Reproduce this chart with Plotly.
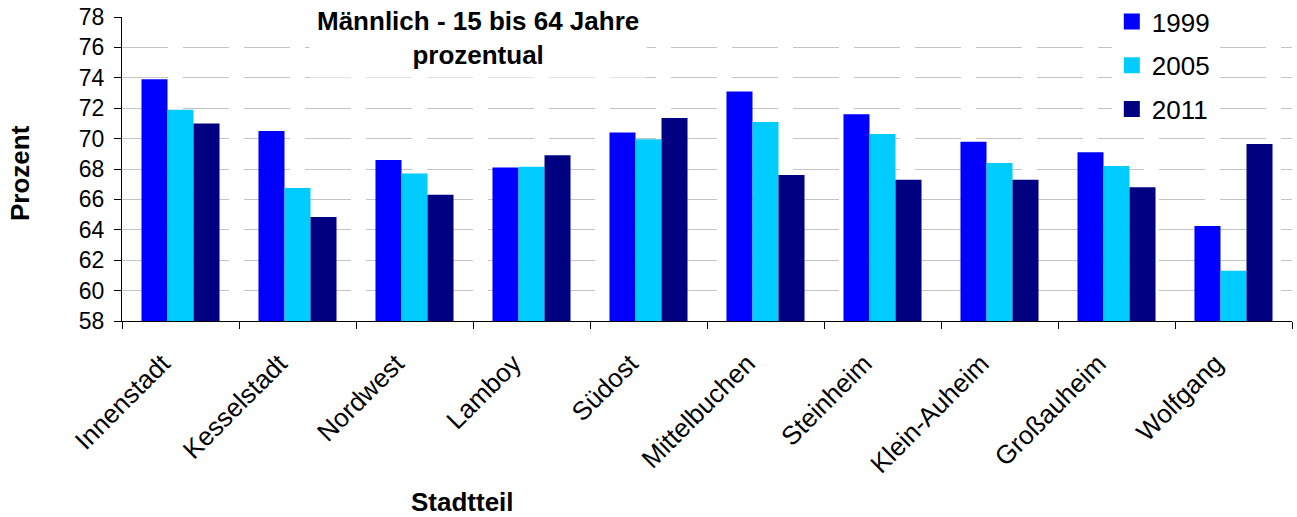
import plotly.graph_objects as go

categories = ["Innenstadt", "Kesselstadt", "Nordwest", "Lamboy", "Südost",
              "Mittelbuchen", "Steinheim", "Klein-Auheim", "Großauheim", "Wolfgang"]
years = ["1999", "2005", "2011"]
v1999 = [73.9, 70.5, 68.6, 68.1, 70.4, 73.1, 71.6, 69.8, 69.1, 64.25]
v2005 = [71.9, 66.75, 67.7, 68.15, 69.95, 71.1, 70.3, 68.4, 68.2, 61.3]
v2011 = [71.0, 64.85, 66.3, 68.9, 71.35, 67.6, 67.3, 67.3, 66.8, 69.65]
colors = ["#0000FF", "#00CCFF", "#000080"]

FONT = "Liberation Sans, Arial, sans-serif"

fig = go.Figure()
for name, vals, col in zip(years, [v1999, v2005, v2011], colors):
    fig.add_trace(go.Bar(x=categories, y=vals, name=name, marker_color=col,
                         marker_line_width=0, showlegend=False))
for i, (name, col) in enumerate(zip(years, colors)):
    fig.add_trace(go.Scatter(x=[None], y=[None], mode="markers", name=name,
                             marker=dict(symbol="square", size=17, color=col),
                             legendgroup="g%d" % i, showlegend=True))

fig.update_layout(
    width=1297, height=517,
    margin=dict(l=122, r=5, t=17, b=196, autoexpand=False),
    paper_bgcolor="white", plot_bgcolor="white",
    barmode="group", bargap=0.333, bargroupgap=0,
    font=dict(family=FONT, color="black"),
    legend=dict(x=0.846, y=1 + 19 / 304, xanchor="left", yanchor="top",
                bgcolor="white", font=dict(size=26, family=FONT),
                tracegroupgap=7, itemsizing="trace"),
)
fig.add_annotation(text="<b>Männlich - 15 bis 64 Jahre<br>prozentual</b>",
                   xref="paper", yref="paper", x=(478 - 122) / 1170, y=1 + 19 / 304,
                   xanchor="center", yanchor="top", showarrow=False,
                   bgcolor="white", borderpad=7, font=dict(size=26, family=FONT))
fig.add_annotation(text="<b>Prozent</b>", xref="paper", yref="paper",
                   x=(20 - 122) / 1170, y=(321 - 173) / 304, textangle=-90,
                   xanchor="center", yanchor="middle", showarrow=False,
                   font=dict(size=26, family=FONT))
fig.add_annotation(text="<b>Stadtteil</b>", xref="paper", yref="paper",
                   x=(462 - 122) / 1170, y=-(502 - 321) / 304,
                   xanchor="center", yanchor="middle", showarrow=False,
                   font=dict(size=26, family=FONT))

fig.update_xaxes(showline=True, linecolor="black", linewidth=1,
                 ticks="outside", tickson="boundaries", ticklen=7, tickcolor="black",
                 tickangle=-45, tickfont=dict(size=26, family=FONT),
                 ticklabelshift=-18, ticklabelstandoff=16,
                 showgrid=False, mirror=False)
fig.update_yaxes(range=[58, 78], dtick=2, showline=True, linecolor="black", linewidth=1,
                 ticks="outside", ticklen=7, tickcolor="black",
                 tickfont=dict(size=23, family=FONT), ticklabelstandoff=5,
                 showgrid=True, gridcolor="#c4c4c4", gridwidth=1, griddash="46px,15px",
                 zeroline=False)

fig.write_html("out.html", config={"displayModeBar": False},
               post_script="document.body.style.margin='0';document.body.style.padding='0';")
